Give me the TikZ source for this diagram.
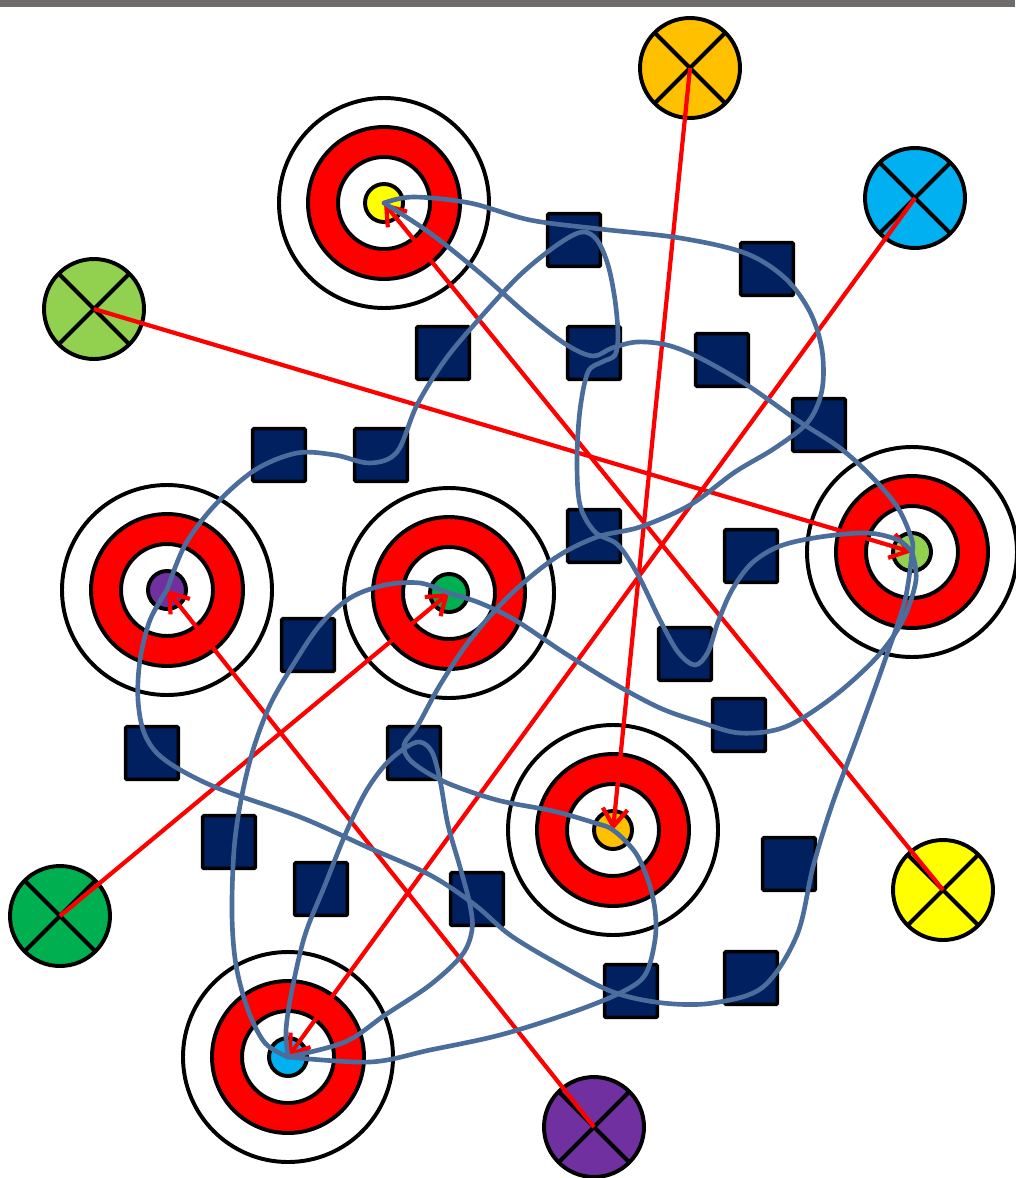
\documentclass[tikz,border=0pt]{standalone}
\usepackage{tikz}
\usetikzlibrary{arrows.meta}
\definecolor{bargray}{HTML}{6F6C6C}
\definecolor{tourblue}{HTML}{4A6D9C}
\definecolor{boxnavy}{HTML}{002060}
\definecolor{ringred}{HTML}{FF0000}
\definecolor{dotyellow}{HTML}{FFFF00}
\definecolor{dotlime}{HTML}{92D050}
\definecolor{dotgreen}{HTML}{00B050}
\definecolor{dotpurple}{HTML}{7030A0}
\definecolor{dotorange}{HTML}{FFC000}
\definecolor{dotcyan}{HTML}{00B0F0}
\tikzset{
  ring/.style={draw=black,line width=2.8pt},
  obstacle/.style={draw=black,fill=boxnavy,line width=2.6pt,minimum size=1.32cm,inner sep=0pt,rounded corners=1pt},
  launch/.style={draw=black,line width=2.8pt},
  shot/.style={draw=ringred,line width=3pt,-{Straight Barb[length=0.44cm,width=0.62cm]}},
  tour/.style={draw=tourblue,line width=3.3pt,line cap=round,smooth,tension=0.55},
}

\begin{document}
\begin{tikzpicture}[x=0.025cm,y=-0.025cm]
  \useasboundingbox (0,0) rectangle (1015,1178);
  \fill[bargray] (0,0) rectangle (1015,7);
  % targets
  \foreach \n/\x/\y/\c in {t1/384/203/dotyellow,t2/912/552/dotlime,t3/167/590/dotpurple,t4/449/593/dotgreen,t5/613/830/dotorange,t6/288/1057/dotcyan}{
    \coordinate (\n) at (\x,\y);
    \filldraw[ring,fill=white] (\n) circle[radius=105];
    \filldraw[ring,fill=ringred] (\n) circle[radius=76];
    \filldraw[ring,fill=white] (\n) circle[radius=46];
    \filldraw[ring,fill=\c] (\n) circle[radius=19];
  }
  % obstacles
  \foreach \x/\y [count=\i] in {574/240,767/269,443/353,594/353,722/360,819/425,279/455,381/455,594/536,751/556,308/645,685/654,739/725,152/753,414/753,229/842,321/889,477/899,789/864,631/991,751/978}
    \node[obstacle] (o\i) at (\x,\y) {};
  % launch points
  \foreach \n/\x/\y/\c in {s1/690/68/dotorange,s2/915/198/dotcyan,s3/94/309/dotlime,s4/60/916/dotgreen,s5/943/890/dotyellow,s6/594/1127/dotpurple}{
    \coordinate (\n) at (\x,\y);
    \filldraw[launch,fill=\c] (\n) circle[radius=50];
    \draw[launch] (\n) +(45:50) -- +(225:50);
    \draw[launch] (\n) +(135:50) -- +(315:50);
  }
  \draw[shot] (s1) -- (t5);
  \draw[shot] (s2) -- (t6);
  \draw[shot] (s3) -- (t2);
  \draw[shot] (s4) -- (t4);
  \draw[shot] (s5) -- (t1);
  \draw[shot] (s6) -- (t3);
  % tours
  \draw[tour] plot coordinates {(t1) (413,197) (470,203) (530,220) (600,229) (680,238) (745,253) (785,278) (810,312) (822,350) (822,390) (808,422) (775,448) (735,472) (690,505) (640,527) (597,537) (555,558) (510,595) (470,640) (440,685) (418,725) (404,745) (412,762) (445,782) (497,800) (553,811) (595,823) (t5) (635,852) (648,880) (655,910) (655,940) (645,975) (620,993) (570,1013) (500,1035) (430,1050) (370,1062) (t6)};
  \draw[tour] plot coordinates {(t6) (286,1030) (292,990) (305,935) (325,885) (345,835) (365,793) (385,765) (405,748) (420,742) (432,752) (440,780) (448,825) (460,867) (470,905) (472,930) (462,955) (430,985) (385,1015) (345,1042) (t6)};
  \draw[tour] plot coordinates {(t1) (430,233) (480,273) (530,317) (567,345) (593,356) (612,348) (637,342) (667,345) (700,358) (747,385) (797,420) (840,448) (872,477) (898,508) (912,540) (t2)};
  \draw[tour] plot coordinates {(t3) (185,545) (215,505) (255,470) (297,453) (335,455) (370,463) (397,452) (417,405) (445,360) (480,318) (520,275) (557,245) (582,232) (597,240) (608,265) (615,300) (618,335) (615,355) (602,362) (588,372) (580,410) (577,460) (580,505) (595,532) (618,545) (638,575) (660,620) (678,652) (695,665) (708,652) (718,622) (732,590) (752,563) (780,546) (820,537) (867,533) (898,540) (t2)};
  \draw[tour] plot coordinates {(t6) (265,1043) (248,1010) (236,965) (232,915) (234,850) (241,800) (253,750) (270,705) (293,665) (320,625) (350,598) (385,585) (420,583) (t4) (480,603) (515,620) (563,652) (613,683) (660,708) (700,722) (740,733) (785,727) (833,697) (877,657) (903,620) (916,580) (t2)};
  \draw[tour] plot coordinates {(t3) (150,620) (140,660) (138,700) (145,735) (165,760) (215,787) (300,817) (367,847) (430,875) (475,905) (510,935) (560,965) (613,992) (663,1003) (713,1003) (763,987) (797,935) (813,867) (832,805) (858,735) (885,660) (905,600) (t2)};
\end{tikzpicture}
\end{document}
